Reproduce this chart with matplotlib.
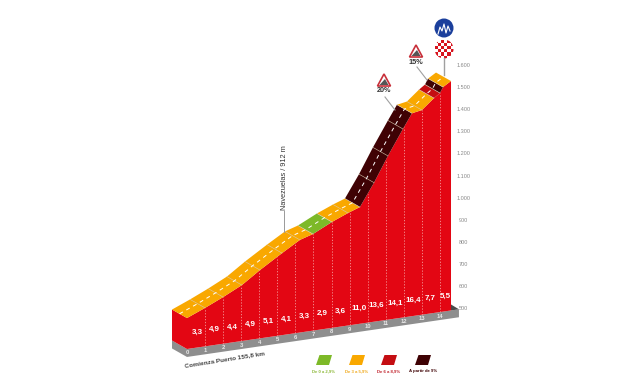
import numpy as np
import matplotlib
matplotlib.use('Agg')
import matplotlib.pyplot as plt
from matplotlib.patches import Circle, Polygon, Rectangle
from matplotlib.transforms import Affine2D

plt.rcParams['font.family'] = ['Liberation Sans', 'DejaVu Sans']

# profile (front edge of the road)
front_km = [0, 1.0, 2.0, 3.04, 4.04, 5.26, 6.25, 6.97, 8.02, 8.91, 9.57, 10.35, 11.12, 11.95, 12.45, 13.0, 13.67, 14.0, 14.17, 14.61]
front_alt = [640, 674, 711, 753, 809, 871, 919, 937, 979, 1009, 1028, 1129, 1241, 1353, 1418, 1426, 1472, 1491, 1516, 1538]

# coloured stretches of the road: start km, end km, class
stretch_start = [0, 6.97, 8.02, 9.57, 12.45, 13.67, 14.0, 14.17]
stretch_end = [6.97, 8.02, 9.57, 12.45, 13.67, 14.0, 14.17, 14.61]
stretch_class = ['b', 'a', 'b', 'd', 'b', 'c', 'd', 'b']

gradients = ['3,3', '4,9', '4,4', '4,9', '5,1', '4,1', '3,3', '2,9', '3,6', '11,0', '13,6', '14,1', '16,4', '7,7', '5,5']
gradient_km = [0.55, 1.5, 2.5, 3.5, 4.5, 5.5, 6.5, 7.5, 8.5, 9.5, 10.5, 11.5, 12.5, 13.45, 14.28]
km_ticks = list(range(15))
alt_ticks = [500, 600, 700, 800, 900, 1000, 1100, 1200, 1300, 1400, 1500, 1600]
alt_labels = ['500', '600', '700', '800', '900', '1.000', '1.100', '1.200', '1.300', '1.400', '1.500', '1.600']

legend_labels = ['De 0 a 2,9%', 'De 3 a 5,9%', 'De 6 a 8,9%', 'A partir de 9%']
legend_keys = ['a', 'b', 'c', 'd']
colors = {'a': '#7DB928', 'b': '#F9A800', 'c': '#C40D12', 'd': '#3F0204'}
label_colors = {'a': '#8DB93A', 'b': '#F0A818', 'c': '#C0202A', 'd': '#3F0204'}

RED = '#E30613'
KM_PX = 18.07
ALT_PX = 0.221
SHEAR = 11.94  # base line climbs to the right
DEPTH_KM = -0.83
DEPTH_ALT = 48.4
BASE = 500
W, H = 624, 385

fig = plt.figure(figsize=(6.24, 3.85), dpi=100)
ax = fig.add_axes([0, 0, 1, 1])
ax.set_xlim(-187 / KM_PX, (W - 187) / KM_PX)
ax.set_ylim(BASE - (H - 349) / ALT_PX, BASE + 349 / ALT_PX)
ax.axis('off')
tr = Affine2D.from_values(1, SHEAR, 0, 1, 0, 0) + ax.transData

front_km = np.array(front_km)
front_alt = np.array(front_alt)
end_km = front_km[-1]

# grey plinth
ax.add_patch(Polygon([(0, BASE), (15.05, BASE), (15.05, BASE - 36), (0, BASE - 36)], fc='#8E8E8E', ec='none', transform=tr))
ax.add_patch(Polygon([(DEPTH_KM, BASE + DEPTH_ALT), (0, BASE), (0, BASE - 36), (DEPTH_KM, BASE + DEPTH_ALT - 36)], fc='#8E8E8E', ec='none', transform=tr))
ax.add_patch(Polygon([(end_km, BASE), (end_km, BASE + 27), (15.05, BASE)], fc='#4A4A4A', ec='none', transform=tr))

# red body
body = list(zip(front_km, front_alt)) + [(end_km, BASE), (0, BASE)]
ax.add_patch(Polygon(body, fc=RED, ec='none', transform=tr))
ax.add_patch(Polygon([(DEPTH_KM, front_alt[0] + DEPTH_ALT), (0, front_alt[0]), (0, BASE), (DEPTH_KM, BASE + DEPTH_ALT)], fc=RED, ec='none', transform=tr))

# km dotted lines
for k in km_ticks[1:]:
    ax.plot([k, k], [BASE, np.interp(k, front_km, front_alt)], color='#F59A9A', lw=0.6, ls=(0, (1.5, 2)), transform=tr)

# road ribbon
for s, e, c in zip(stretch_start, stretch_end, stretch_class):
    mask = (front_km >= s) & (front_km <= e)
    xs, ys = front_km[mask], front_alt[mask]
    pts = list(zip(xs, ys)) + list(zip(xs[::-1] + DEPTH_KM, ys[::-1] + DEPTH_ALT))
    ax.add_patch(Polygon(pts, fc=colors[c], ec='none', transform=tr))

# cross lines and centre dashes
for k, a in zip(front_km[1:-1], front_alt[1:-1]):
    ax.plot([k, k + DEPTH_KM], [a, a + DEPTH_ALT], color='#D9C9B0', lw=0.4, transform=tr)
ax.plot(front_km + DEPTH_KM / 2, front_alt + DEPTH_ALT / 2, color='white', lw=0.7, ls=(0, (4, 4)), transform=tr)

# texts on the profile
for k, g in zip(gradient_km, gradients):
    ax.text(k, 570, g, color='white', fontsize=5.8, fontweight='bold', ha='center', va='center', transform=tr)
for k in km_ticks:
    ax.text(k, 482, str(k), color='#E8E8E8', fontsize=4.2, fontweight='bold', ha='center', va='center', transform=tr)
for a, lab in zip(alt_ticks, alt_labels):
    ax.text(15.3, a, lab, color='#8A8A8A', fontsize=4, ha='center', va='center', transform=tr)

# overlay in pixels for signs, legend and notes
ov = fig.add_axes([0, 0, 1, 1], facecolor='none')
ov.set_xlim(0, W)
ov.set_ylim(H, 0)
ov.axis('off')

ov.text(225, 359, 'Comienza Puerto 155,8 km', color='#444444', fontsize=4.6, fontweight='bold', rotation=9, ha='center', va='center')
ov.text(284, 178, 'Navezuelas / 912 m', color='#333333', fontsize=5.3, rotation=90, ha='center', va='center')
ov.plot([284, 284], [211, 232], color='#999999', lw=0.7)


def sign(x, y, label, leader):
    ov.add_patch(Polygon([(x, y - 7), (x + 6.5, y + 5), (x - 6.5, y + 5)], fc='white', ec='#C8303A', lw=1.2))
    ov.add_patch(Polygon([(x - 4.5, y + 4), (x + 1, y - 2), (x + 4.5, y + 4)], fc='#555555', ec='none'))
    ov.text(x, y + 10, label, color='#333333', fontsize=5.2, fontweight='bold', ha='center', va='center')
    ov.plot(leader[0], leader[1], color='#A0A0A0', lw=0.8)


sign(384, 81, '20%', ([385, 395], [97, 110]))
sign(416, 52, '15%', ([417, 427], [67, 80]))

# summit post and circles
ov.plot([444, 444], [58, 75], color='#A0A0A0', lw=1)
ov.add_patch(Circle((444, 28), 9.5, fc='#1B3F9C', ec='none'))
ov.plot([438, 440, 442, 444, 446, 448, 450], [34, 27, 31, 24, 33, 26, 31], color='white', lw=0.8)
clip = Circle((444, 49), 9.5, fc='white', ec='none')
ov.add_patch(clip)
for i in range(6):
    for j in range(6):
        if (i + j) % 2 == 0:
            r = Rectangle((434.5 + i * 3.2, 39.5 + j * 3.2), 3.2, 3.2, fc='#D7141E', ec='none')
            ov.add_patch(r)
            r.set_clip_path(clip)

# legend
for cx, lab, key in zip([324, 357, 389, 423], legend_labels, legend_keys):
    ov.add_patch(Polygon([(cx - 8, 365), (cx - 4.5, 355), (cx + 8, 355), (cx + 5, 365)], fc=colors[key], ec='none'))
    ov.text(cx, 371, lab, color=label_colors[key], fontsize=3.1, fontweight='bold', ha='center', va='center')

fig.savefig('out.png', dpi=100)
